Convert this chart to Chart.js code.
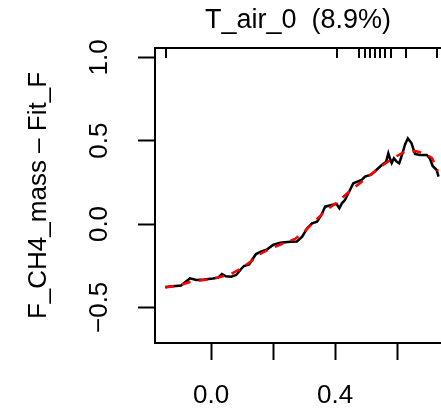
<!DOCTYPE html>
<html>
<head>
<meta charset="utf-8">
<script src="https://cdn.jsdelivr.net/npm/chart.js@4/dist/chart.umd.min.js"></script>
<style>
  html, body { margin: 0; padding: 0; background: #ffffff; overflow: hidden; }
  #wrap { width: 441px; height: 413px; }
</style>
</head>
<body>
<div id="wrap"><canvas id="c" width="441" height="413"></canvas></div>
<script>
// ---- data ----
const titleText = 'T_air_0  (8.9%)';
const yTitle = 'F_CH4_mass \u2013 Fit_F';

// fitted partial dependence (black)
const fitX = [-0.148,-0.097,-0.081,-0.068,-0.048,-0.023,0.006,0.023,0.035,0.048,0.065,0.081,0.097,0.106,0.123,0.132,0.145,0.161,0.181,0.200,0.223,0.255,0.277,0.294,0.310,0.326,0.342,0.356,0.368,0.389,0.405,0.414,0.422,0.432,0.445,0.459,0.486,0.497,0.518,0.535,0.551,0.565,0.572,0.577,0.583,0.590,0.599,0.607,0.615,0.626,0.635,0.647,0.658,0.674,0.696,0.706,0.715,0.728,0.734];
const fitY = [-0.378,-0.369,-0.345,-0.326,-0.336,-0.333,-0.327,-0.322,-0.300,-0.314,-0.316,-0.306,-0.270,-0.252,-0.243,-0.216,-0.180,-0.166,-0.152,-0.126,-0.112,-0.106,-0.105,-0.076,-0.026,0.004,0.014,0.054,0.104,0.114,0.120,0.094,0.124,0.144,0.192,0.244,0.264,0.284,0.298,0.327,0.354,0.374,0.424,0.394,0.366,0.394,0.374,0.364,0.408,0.477,0.514,0.484,0.420,0.414,0.414,0.394,0.348,0.324,0.284];

// smoothed fit (red dashed)
const smoothX = [-0.148,-0.100,-0.068,-0.035,-0.003,0.029,0.061,0.094,0.126,0.158,0.190,0.232,0.271,0.303,0.335,0.368,0.406,0.448,0.481,0.513,0.555,0.594,0.626,0.658,0.690,0.713,0.732];
const smoothY = [-0.381,-0.366,-0.348,-0.339,-0.330,-0.318,-0.303,-0.270,-0.228,-0.180,-0.150,-0.117,-0.090,-0.042,0.018,0.078,0.129,0.198,0.246,0.294,0.354,0.402,0.435,0.438,0.423,0.396,0.318];

// rug (deciles of predictor) along the top
const rugX = [-0.146,0.406,0.477,0.497,0.513,0.529,0.545,0.561,0.581,0.629,0.729];

// axes
const xTickValues = [0.0, 0.2, 0.4, 0.6];
const xTickLabels = ['0.0', '', '0.4', ''];
const yTickValues = [-0.5, 0.0, 0.5, 1.0];
const yTickLabels = ['\u22120.5', '0.0', '0.5', '1.0'];
const xRange = [-0.181, 0.742];
const yRange = [-0.714, 1.056];

// ---- chart ----
const FONT = "'Liberation Sans', Arial, Helvetica, sans-serif";
const pts = (xs, ys) => xs.map((x, i) => ({ x: x, y: ys[i] }));

const framePlugin = {
  id: 'frameAndRug',
  afterDatasetsDraw(chart) {
    const { ctx, chartArea, scales } = chart;
    ctx.save();
    ctx.strokeStyle = '#000';
    ctx.lineWidth = 2;
    // top edge of the box
    ctx.beginPath();
    ctx.moveTo(chartArea.left, chartArea.top);
    ctx.lineTo(chartArea.right, chartArea.top);
    ctx.stroke();
    // rug marks
    ctx.beginPath();
    rugX.forEach(v => {
      const px = Math.round(scales.x.getPixelForValue(v));
      ctx.moveTo(px, chartArea.top);
      ctx.lineTo(px, chartArea.top + 10);
    });
    ctx.stroke();
    ctx.restore();
  }
};

new Chart(document.getElementById('c'), {
  type: 'scatter',
  data: {
    datasets: [
      {
        label: 'smooth',
        data: pts(smoothX, smoothY),
        showLine: true,
        borderColor: '#ff0000',
        borderWidth: 2.5,
        borderDash: [9, 8],
        pointRadius: 0,
        tension: 0,
        clip: 0
      },
      {
        label: 'fitted',
        data: pts(fitX, fitY),
        showLine: true,
        borderColor: '#000000',
        borderWidth: 2.5,
        pointRadius: 0,
        tension: 0,
        clip: 0
      }
    ]
  },
  options: {
    responsive: false,
    devicePixelRatio: 1,
    animation: false,
    layout: { padding: 0 },
    plugins: {
      legend: { display: false },
      tooltip: { enabled: false },
      title: {
        display: true,
        text: titleText,
        fullSize: false,
        color: '#000',
        font: { family: FONT, size: 27, weight: 'normal', lineHeight: 1.2 },
        padding: { top: 4, bottom: 11.6 }
      }
    },
    scales: {
      x: {
        type: 'linear',
        position: 'bottom',
        min: xRange[0],
        max: xRange[1],
        afterBuildTicks: s => { s.ticks = xTickValues.map(v => ({ value: v })); },
        afterFit: s => { s.height = 70; },
        ticks: {
          includeBounds: false,
          autoSkip: false,
          maxRotation: 0,
          color: '#000',
          padding: 20,
          font: { family: FONT, size: 26 },
          callback: (v, i) => xTickLabels[i]
        },
        grid: {
          display: true,
          drawOnChartArea: false,
          drawTicks: true,
          tickLength: 17,
          tickWidth: 2,
          tickColor: '#000'
        },
        border: { display: true, color: '#000', width: 2 }
      },
      y: {
        type: 'linear',
        position: 'left',
        min: yRange[0],
        max: yRange[1],
        afterBuildTicks: s => { s.ticks = yTickValues.map(v => ({ value: v })); },
        afterFit: s => { s.width = 155; },
        ticks: {
          includeBounds: false,
          autoSkip: false,
          minRotation: 90,
          maxRotation: 90,
          crossAlign: 'center',
          color: '#000',
          padding: 13,
          font: { family: FONT, size: 26 },
          callback: (v, i) => yTickLabels[i]
        },
        title: {
          display: true,
          text: yTitle,
          color: '#000',
          font: { family: FONT, size: 26, lineHeight: 1.2 },
          padding: { top: 23, bottom: 0 }
        },
        grid: {
          display: true,
          drawOnChartArea: false,
          drawTicks: true,
          tickLength: 17,
          tickWidth: 2,
          tickColor: '#000'
        },
        border: { display: true, color: '#000', width: 2 }
      }
    }
  },
  plugins: [framePlugin]
});
</script>
</body>
</html>
